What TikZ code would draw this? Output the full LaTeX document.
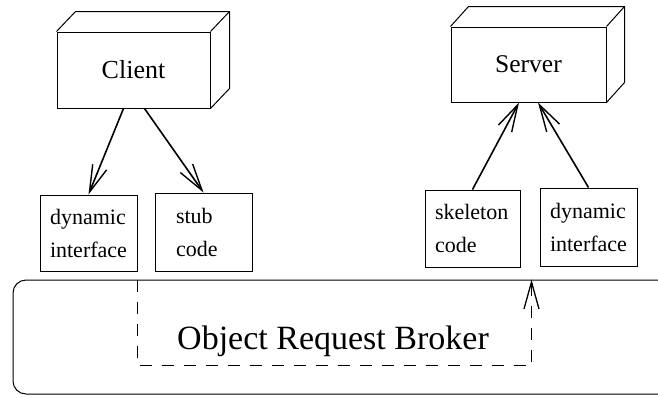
\documentclass[tikz,border=0pt]{standalone}
\usepackage{fontspec}
\setmainfont{Liberation Serif}
\usetikzlibrary{arrows.meta,positioning,calc}

\begin{document}
\begin{tikzpicture}[x=1pt,y=-1pt,
  cubefront/.style={draw,line width=1pt,inner sep=0pt},
  modbox/.style={draw,line width=1pt,align=left,inner xsep=10pt,inner ysep=0pt,font=\fontsize{22}{33}\selectfont},
  callarrow/.style={line width=1.6pt,-{Straight Barb[length=27pt,width=15pt,line width=1.4pt]}},
  orbflow/.style={line width=1.4pt,dash pattern=on 12pt off 10pt,-{Straight Barb[length=27pt,width=15pt,line width=1.3pt]}}]
  \useasboundingbox (0,0) rectangle (658,397);

  % Client
  \node[cubefront,minimum width=153pt,minimum height=76pt,font=\fontsize{26}{30}\selectfont] (client) at (133.5,70) {Client};
  \draw[line width=1pt] (client.north west) -- ++(19,-20) -- ($(client.north east)+(19,-20)$) -- ($(client.south east)+(19,-20)$) -- (client.south east);
  \draw[line width=1pt] (client.north east) -- ++(19,-20);

  % Server
  \node[cubefront,minimum width=155pt,minimum height=75pt,font=\fontsize{25.5}{30}\selectfont] (server) at (528.5,64.5) {Server};
  \draw[line width=1pt] (server.north west) -- ++(18,-20) -- ($(server.north east)+(18,-20)$) -- ($(server.south east)+(18,-20)$) -- (server.south east);
  \draw[line width=1pt] (server.north east) -- ++(18,-20);

  % Interfaces
  \node[modbox,text width=77pt,minimum height=76pt] (dynC) at (88.5,233) {dynamic\\interface};
  \node[modbox,text width=55pt,inner xsep=21pt,minimum height=78pt] (stub) at (203.5,232) {stub\\code};
  \node[modbox,text width=75pt,minimum height=77pt] (skel) at (472.5,228.5) {skeleton\\code};
  \node[modbox,text width=77pt,minimum height=78pt] (dynS) at (588.5,227) {dynamic\\interface};

  % Calls
  \draw[callarrow] ([xshift=-10pt]client.south) -- (dynC.north);
  \draw[callarrow] ([xshift=11pt]client.south) -- (stub.north);
  \draw[callarrow] (skel.north) -- ([xshift=-9.5pt]server.south);
  \draw[callarrow] (dynS.north) -- ([xshift=9.5pt]server.south);

  % ORB
  \node[draw,line width=1pt,rounded corners=13pt,minimum width=690pt,minimum height=114pt] (orb) at (358,337) {};
  \node[anchor=base,font=\fontsize{34}{40}\selectfont] (orblabel) at (333,349) {Object Request Broker};
  \coordinate (orbin) at (orb.north -| dynC.east);
  \coordinate (orbout) at ($(orb.north -| dynS.west)+(-8,0)$);
  \draw[orbflow] (orbin) -- ++(0,86) -| (orbout);
\end{tikzpicture}
\end{document}
